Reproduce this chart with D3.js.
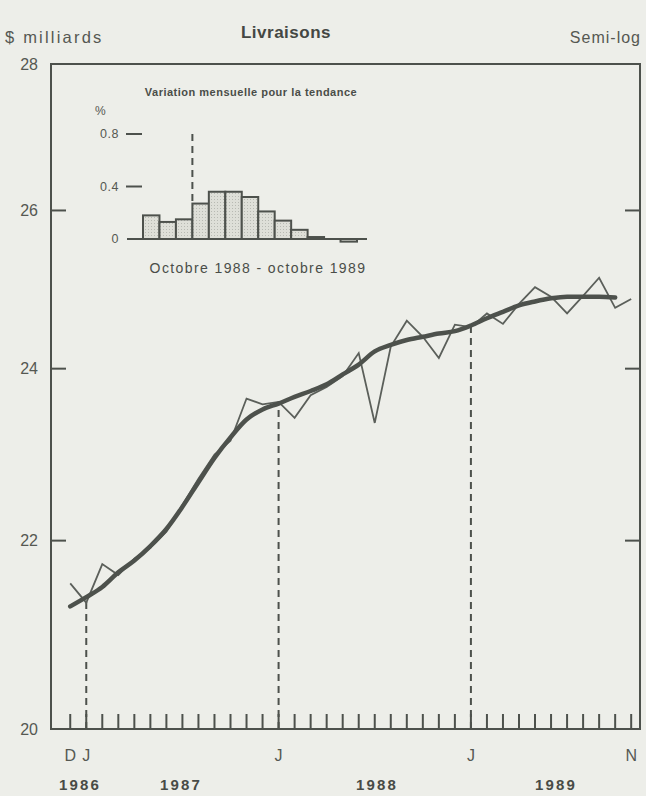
<!DOCTYPE html>
<html>
<head>
<meta charset="utf-8">
<script src="https://cdn.jsdelivr.net/npm/d3@7"></script>
<style>
  html, body { margin: 0; padding: 0; background: #edeee9; }
  svg { display: block; font-family: "Liberation Sans", Arial, Helvetica, sans-serif; }
</style>
</head>
<body>
<script>
// ---------- DATA ----------
// Monthly observations, Dec 1986 .. Nov 1989 (month index 0..35)
const months = ["1986-12","1987-01","1987-02","1987-03","1987-04","1987-05","1987-06","1987-07","1987-08","1987-09","1987-10","1987-11",
                "1987-12","1988-01","1988-02","1988-03","1988-04","1988-05","1988-06","1988-07","1988-08","1988-09","1988-10","1988-11",
                "1988-12","1989-01","1989-02","1989-03","1989-04","1989-05","1989-06","1989-07","1989-08","1989-09","1989-10","1989-11"];
// Shipments ($ billions), raw monthly series
const shipments = [21.53,21.32,21.74,21.62,21.80,21.92,22.10,22.40,22.70,22.98,23.14,23.64,
                   23.57,23.60,23.41,23.68,23.78,23.91,24.19,23.35,24.27,24.59,24.39,24.13,
                   24.54,24.51,24.68,24.55,24.80,25.01,24.89,24.68,24.90,25.13,24.75,24.86];
// Trend-cycle, Dec 1986 .. Oct 1989
const trend = [21.28,21.38,21.49,21.65,21.78,21.94,22.13,22.38,22.66,22.94,23.18,23.39,
               23.51,23.58,23.66,23.73,23.81,23.93,24.05,24.21,24.29,24.35,24.39,24.43,
               24.46,24.53,24.62,24.70,24.78,24.83,24.87,24.89,24.89,24.89,24.88];
const yTicks = [20, 22, 24, 26, 28];
const monthLetters = [{i:0,t:"D"},{i:1,t:"J"},{i:13,t:"J"},{i:25,t:"J"},{i:35,t:"N"}];
const januaries = [1, 13, 25];
const years = [{t:"1986",x:80},{t:"1987",x:181},{t:"1988",x:377},{t:"1989",x:556}];

// Inset: monthly % change of trend, Oct 1988 .. Oct 1989
const insetMonths = ["1988-10","1988-11","1988-12","1989-01","1989-02","1989-03","1989-04",
                     "1989-05","1989-06","1989-07","1989-08","1989-09","1989-10"];
const insetChange = [0.18,0.13,0.15,0.27,0.36,0.36,0.32,0.21,0.14,0.07,0.015,0.0,-0.02];
const insetTicks = [0, 0.4, 0.8];

// ---------- LAYOUT ----------
const W = 646, H = 796;
const ink = "#4d514c", txt = "#555852";
const svg = d3.select("body").append("svg").attr("width", W).attr("height", H);

const x = d3.scaleLinear().domain([-1.2, 35.55]).range([51, 640]);
const y = d3.scaleLog().domain([20, 28]).range([729, 64]);

// frame
svg.append("rect")
  .attr("x", x(-1.2)).attr("y", y(28))
  .attr("width", x(35.55) - x(-1.2)).attr("height", y(20) - y(28))
  .attr("fill", "none").attr("stroke", ink).attr("stroke-width", 2);

// y ticks (left and right, inside)
[22, 24, 26].forEach(v => {
  svg.append("line").attr("x1", x(-1.2)).attr("x2", x(-1.2) + 15)
    .attr("y1", y(v)).attr("y2", y(v)).attr("stroke", ink).attr("stroke-width", 2);
  svg.append("line").attr("x1", x(35.55)).attr("x2", x(35.55) - 15)
    .attr("y1", y(v)).attr("y2", y(v)).attr("stroke", ink).attr("stroke-width", 2);
});
svg.selectAll("text.ylab").data(yTicks).enter().append("text")
  .attr("class", "ylab").attr("x", 38).attr("y", d => y(d)).attr("dy", "0.35em")
  .attr("text-anchor", "end").attr("font-size", 16).attr("fill", txt).text(d => d);

// x ticks (each month)
svg.selectAll("line.xt").data(months).enter().append("line")
  .attr("class", "xt")
  .attr("x1", (d, i) => x(i)).attr("x2", (d, i) => x(i))
  .attr("y1", y(20)).attr("y2", y(20) - 15)
  .attr("stroke", ink).attr("stroke-width", 2);

// dashed January lines up to the trend
svg.selectAll("line.jan").data(januaries).enter().append("line")
  .attr("class", "jan")
  .attr("x1", d => x(d)).attr("x2", d => x(d))
  .attr("y1", y(20)).attr("y2", d => y(trend[d]))
  .attr("stroke", ink).attr("stroke-width", 2).attr("stroke-dasharray", "7,5");

// raw series (thin)
const line = d3.line().x((d, i) => x(i)).y(d => y(d));
svg.append("path").datum(shipments).attr("d", line)
  .attr("fill", "none").attr("stroke", "#5b5f5a").attr("stroke-width", 1.8)
  .attr("stroke-linejoin", "miter");
// trend (thick)
svg.append("path").datum(trend).attr("d", d3.line().curve(d3.curveMonotoneX).x((d, i) => x(i)).y(d => y(d)))
  .attr("fill", "none").attr("stroke", ink).attr("stroke-width", 4.5)
  .attr("stroke-linecap", "round");

// month letters
svg.selectAll("text.ml").data(monthLetters).enter().append("text")
  .attr("class", "ml").attr("x", d => x(d.i)).attr("y", 761)
  .attr("text-anchor", "middle").attr("font-size", 16).attr("fill", txt).text(d => d.t);
// years
svg.selectAll("text.yr").data(years).enter().append("text")
  .attr("class", "yr").attr("x", d => d.x).attr("y", 790)
  .attr("text-anchor", "middle").attr("font-size", 15).attr("font-weight", "bold")
  .attr("letter-spacing", 2.2).attr("fill", "#484b46").text(d => d.t);

// titles
svg.append("text").attr("x", 5).attr("y", 43).attr("font-size", 16.5).attr("letter-spacing", 2.2)
  .attr("fill", txt).text("$ milliards");
svg.append("text").attr("x", 286).attr("y", 38).attr("text-anchor", "middle")
  .attr("font-size", 17).attr("font-weight", "bold").attr("letter-spacing", 0.5)
  .attr("fill", "#444743").text("Livraisons");
svg.append("text").attr("x", 641).attr("y", 43).attr("text-anchor", "end")
  .attr("font-size", 16).attr("letter-spacing", 1).attr("fill", txt).text("Semi-log");

// ---------- INSET ----------
const ix = d3.scaleBand().domain(insetMonths).range([143, 357]).padding(0);
const iy = d3.scaleLinear().domain([0, 0.8]).range([239, 134]);

svg.append("text").attr("x", 251).attr("y", 96).attr("text-anchor", "middle")
  .attr("font-size", 11).attr("font-weight", "bold").attr("letter-spacing", 0.5)
  .attr("fill", "#4a4d48")
  .text("Variation mensuelle pour la tendance");
svg.append("text").attr("x", 95).attr("y", 115).attr("font-size", 12).attr("fill", txt).text("%");

svg.selectAll("text.il").data(insetTicks).enter().append("text")
  .attr("class", "il").attr("x", 119).attr("y", d => iy(d)).attr("dy", "0.35em")
  .attr("text-anchor", "end").attr("font-size", 12.5).attr("letter-spacing", 0.5).attr("fill", txt)
  .text(d => d === 0 ? "0" : d.toFixed(1));
svg.selectAll("line.it").data(insetTicks.filter(d => d > 0)).enter().append("line")
  .attr("class", "it").attr("x1", 126).attr("x2", 142)
  .attr("y1", d => iy(d)).attr("y2", d => iy(d)).attr("stroke", ink).attr("stroke-width", 2);

// dotted fill pattern
const defs = svg.append("defs");
const pat = defs.append("pattern").attr("id", "dots").attr("width", 3).attr("height", 3)
  .attr("patternUnits", "userSpaceOnUse");
pat.append("rect").attr("width", 3).attr("height", 3).attr("fill", "#dedfd8");
pat.append("rect").attr("x", 1).attr("y", 1).attr("width", 1).attr("height", 1).attr("fill", "#b8bab3");

svg.selectAll("rect.bar").data(insetChange).enter().append("rect")
  .attr("class", "bar")
  .attr("x", (d, i) => ix(insetMonths[i]))
  .attr("y", d => Math.min(iy(d), iy(0)))
  .attr("width", ix.bandwidth())
  .attr("height", d => Math.abs(iy(d) - iy(0)))
  .attr("fill", "url(#dots)").attr("stroke", ink).attr("stroke-width", 2);

svg.append("line").attr("x1", 127).attr("x2", 367).attr("y1", iy(0)).attr("y2", iy(0))
  .attr("stroke", ink).attr("stroke-width", 2);

// dashed line at January 1989 in inset
const jan89 = insetMonths.indexOf("1989-01");
svg.append("line")
  .attr("x1", ix("1989-01")).attr("x2", ix("1989-01"))
  .attr("y1", iy(0.8)).attr("y2", iy(insetChange[jan89]))
  .attr("stroke", ink).attr("stroke-width", 2).attr("stroke-dasharray", "7,5");

svg.append("text").attr("x", 258).attr("y", 273).attr("text-anchor", "middle")
  .attr("font-size", 14).attr("letter-spacing", 1.4).attr("fill", "#4a4d48")
  .text("Octobre 1988 - octobre 1989");
</script>
</body>
</html>
